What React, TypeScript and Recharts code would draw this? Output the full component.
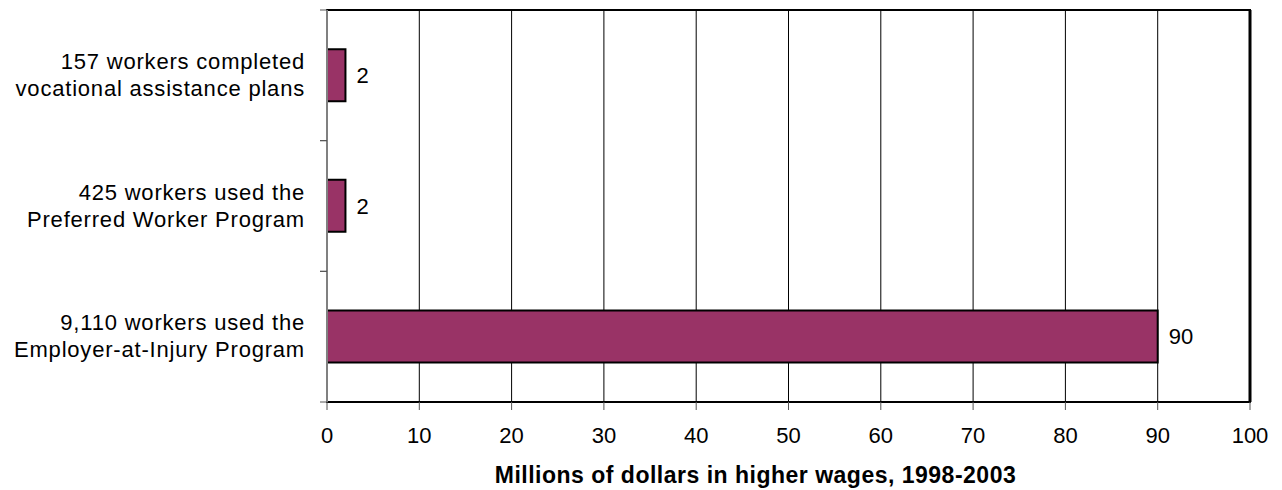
import React from 'react';
import { BarChart, Bar, XAxis, YAxis, CartesianGrid, LabelList, ReferenceArea, ReferenceLine } from 'recharts';

const categories = [
  '157 workers completed\nvocational assistance plans',
  '425 workers used the\nPreferred Worker Program',
  '9,110 workers used the\nEmployer-at-Injury Program',
];
const values = [2, 2, 90];
const xTicks = [0, 10, 20, 30, 40, 50, 60, 70, 80, 90, 100];
const axisTitle = 'Millions of dollars in higher wages, 1998-2003';

const data = categories.map((c, i) => ({ label: c, value: values[i] }));

const FONT = '"Liberation Sans", Arial, sans-serif';
const FS = 22;

const YTick = (props: any) => {
  const { x, y, payload } = props;
  const lines = String(payload.value).split('\n');
  const half = payload.offset || 65;
  const tx = x - 16;
  return (
    <g>
      <line x1={x - 1} x2={x + 6} y1={y - half} y2={y - half} stroke="#555" strokeWidth={1} />
      <line x1={x - 1} x2={x + 6} y1={y + half} y2={y + half} stroke="#555" strokeWidth={1} />
      <text x={tx} y={y} textAnchor="end" fontFamily={FONT} fontSize={FS} letterSpacing={0.8} fill="#000">
        {lines.map((l, i) => (
          <tspan key={i} x={tx} dy={i === 0 ? -((lines.length - 1) * 27) / 2 + 7 : 27}>{l}</tspan>
        ))}
      </text>
    </g>
  );
};

export default function App() {
  return (
    <div style={{ position: 'absolute', left: 0, top: 0, background: '#fff' }}>
      <BarChart
        width={1282}
        height={490}
        data={data}
        layout="vertical"
        margin={{ top: 10, right: 32, bottom: 0, left: 0 }}
        barCategoryGap="30%"
      >
        <CartesianGrid horizontal={false} vertical stroke="#000" strokeWidth={1} />
        <XAxis
          type="number"
          domain={[0, 100]}
          ticks={xTicks}
          interval={0}
          height={88}
          axisLine={{ stroke: '#000', strokeWidth: 2 }}
          tickLine={{ stroke: '#555' }}
          tickSize={8}
          tickMargin={17}
          tick={{ fill: '#000', fontSize: FS, fontFamily: FONT }}
          label={{ value: axisTitle, position: 'insideBottom', offset: 7, dx: -33, style: { fontWeight: 'bold', fontSize: 23, letterSpacing: 0.5, fontFamily: FONT, fill: '#000' } }}
        />
        <YAxis
          type="category"
          dataKey="label"
          width={327}
          axisLine={{ stroke: '#808080', strokeWidth: 2 }}
          tickLine={false}
          tickMargin={0}
          tick={<YTick />}
          interval={0}
        />
        <ReferenceArea x1={0} x2={100} fill="none" fillOpacity={0} stroke="#000" strokeWidth={2} />
        <ReferenceLine x={100} stroke="#000" strokeWidth={3} />
        <Bar dataKey="value" fill="#993366" stroke="#000" strokeWidth={2} isAnimationActive={false}>
          <LabelList dataKey="value" position="right" offset={11} fill="#000" fontSize={FS} fontFamily={FONT} />
        </Bar>
      </BarChart>
    </div>
  );
}
